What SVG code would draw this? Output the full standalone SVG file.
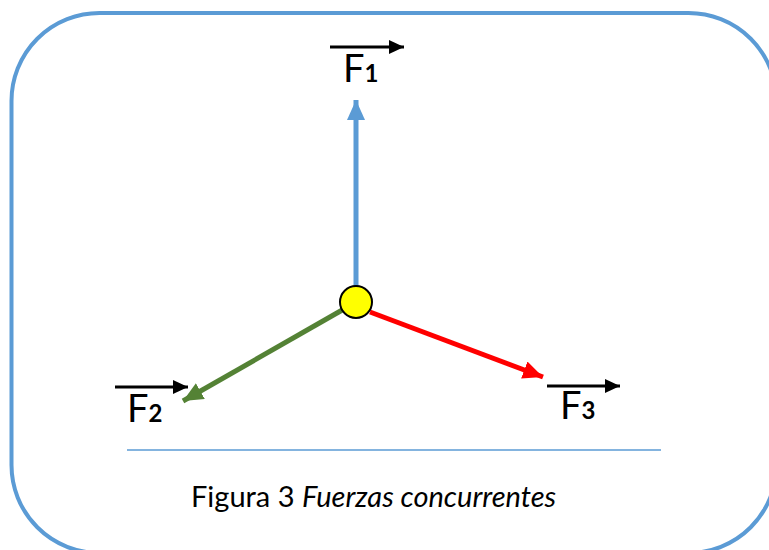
<svg xmlns="http://www.w3.org/2000/svg" width="769" height="550" viewBox="0 0 769 550">
<style>
.lbl{font-family:Lato,"Open Sans","Liberation Sans",sans-serif;font-size:38px;fill:#000}
.sub{font-size:24px;font-weight:bold}
.cap{font-family:Lato,"Open Sans","Liberation Sans",sans-serif;font-size:29px;fill:#000}
.vec{stroke:#000;stroke-width:3;fill:none}
</style>
<defs>
<marker id="hb" markerUnits="userSpaceOnUse" markerWidth="22" markerHeight="18" refX="20" refY="9" orient="auto"><path d="M0,0 L20,9 L0,18 z" fill="#5B9BD5"/></marker>
<marker id="hg" markerUnits="userSpaceOnUse" markerWidth="22" markerHeight="18" refX="20" refY="9" orient="auto"><path d="M0,0 L20,9 L0,18 z" fill="#548235"/></marker>
<marker id="hr" markerUnits="userSpaceOnUse" markerWidth="22" markerHeight="18" refX="20" refY="9" orient="auto"><path d="M0,0 L20,9 L0,18 z" fill="#FF0000"/></marker>
<marker id="hk" markerUnits="userSpaceOnUse" markerWidth="16" markerHeight="14" refX="15" refY="7" orient="auto"><path d="M0,0 L15,7 L0,14 z" fill="#000"/></marker>
</defs>
<rect x="11.5" y="13" width="765" height="540" rx="88" ry="88" fill="#fff" stroke="#5B9BD5" stroke-width="4"/>
<line x1="127" y1="450" x2="661" y2="450" stroke="#5B9BD5" stroke-width="1.5"/>
<g id="connectors">
<line x1="356" y1="290" x2="356" y2="100" stroke="#5B9BD5" stroke-width="5" marker-end="url(#hb)"/>
<line x1="344" y1="309" x2="183" y2="401" stroke="#548235" stroke-width="5" marker-end="url(#hg)"/>
<line x1="370" y1="312" x2="543" y2="377" stroke="#FF0000" stroke-width="5" marker-end="url(#hr)"/>
</g>
<g id="center"><circle cx="356" cy="302" r="16" fill="#FFFF00" stroke="#000" stroke-width="2"/></g>
<g id="F1">
<line class="vec" x1="330" y1="47" x2="404" y2="47" marker-end="url(#hk)"/>
<text class="lbl" x="343" y="82">F<tspan class="sub">1</tspan></text>
</g>
<g id="F2">
<line class="vec" x1="115" y1="387" x2="188" y2="387" marker-end="url(#hk)"/>
<text class="lbl" x="127" y="422">F<tspan class="sub">2</tspan></text>
</g>
<g id="F3">
<line class="vec" x1="547" y1="386" x2="620" y2="386" marker-end="url(#hk)"/>
<text class="lbl" x="560" y="419">F<tspan class="sub">3</tspan></text>
</g>
<g id="caption">
<text class="cap" x="191" y="507">Figura 3 <tspan font-style="italic">Fuerzas concurrentes</tspan></text>
</g>
</svg>
